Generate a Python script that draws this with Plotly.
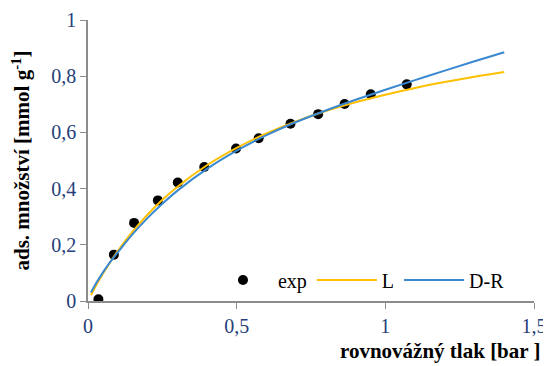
import plotly.graph_objects as go

# experimental points
exp_p = [0.035, 0.087, 0.155, 0.235, 0.302, 0.391, 0.498, 0.574, 0.681, 0.774, 0.863, 0.951, 1.072]
exp_q = [0.006, 0.165, 0.278, 0.358, 0.422, 0.477, 0.543, 0.579, 0.631, 0.665, 0.701, 0.736, 0.771]

# model curves
curve_p = [0.01, 0.02, 0.04, 0.06, 0.08, 0.1, 0.15, 0.2, 0.25, 0.3, 0.4, 0.5, 0.6, 0.7, 0.8,
           0.9, 1.0, 1.1, 1.2, 1.3, 1.4]
L_q = [0.021, 0.041, 0.079, 0.114, 0.147, 0.178, 0.247, 0.307, 0.360, 0.406, 0.483, 0.545,
       0.596, 0.639, 0.676, 0.707, 0.734, 0.758, 0.779, 0.798, 0.815]
DR_q = [0.030, 0.050, 0.085, 0.117, 0.146, 0.173, 0.238, 0.295, 0.346, 0.392, 0.470, 0.535,
        0.590, 0.637, 0.678, 0.716, 0.752, 0.786, 0.820, 0.853, 0.885]

x_ticks = [0, 0.5, 1, 1.5]
y_ticks = [0, 0.2, 0.4, 0.6, 0.8, 1]

FONT = "Liberation Serif"

fig = go.Figure()
fig.add_trace(go.Scatter(x=exp_p, y=exp_q, mode="markers", name="exp",
                         marker=dict(color="black", size=10)))
fig.add_trace(go.Scatter(x=curve_p, y=L_q, mode="lines", name="L",
                         line=dict(color="#FFC000", width=2, shape="spline")))
fig.add_trace(go.Scatter(x=curve_p, y=DR_q, mode="lines", name="D-R",
                         line=dict(color="#3A88D0", width=2, shape="spline")))

axis_common = dict(showgrid=False, zeroline=False, showline=True, linecolor="#8c8c8c",
                   linewidth=1.5, ticks="outside", tickcolor="#8c8c8c", ticklen=6,
                   tickfont=dict(family=FONT, size=20, color="#24407a"))

# page body has an 8px default margin, so margins are offset to compensate
fig.update_layout(
    width=551, height=366,
    margin=dict(l=80, r=25, t=12, b=73, autoexpand=False),
    paper_bgcolor="white", plot_bgcolor="white",
    separators=", ",
    font=dict(family=FONT),
    showlegend=True,
    legend=dict(orientation="h", x=0.269, y=0.075, xanchor="left", yanchor="middle",
                bgcolor="rgba(0,0,0,0)", font=dict(family=FONT, size=20, color="black"),
                itemwidth=60, tracegroupgap=0),
    xaxis=dict(range=[0, 1.5], tickvals=x_ticks, **axis_common),
    yaxis=dict(range=[0, 1], tickvals=y_ticks, **axis_common),
    annotations=[
        dict(text="<b>rovnovážný tlak [bar ]</b>", xref="paper", yref="paper",
             x=1.018, y=0, xanchor="right", yanchor="top", yshift=-36, showarrow=False,
             font=dict(family=FONT, size=21, color="black")),
        dict(text="<b>ads. množství [mmol g<sup>-1</sup>]</b>", xref="paper", yref="paper",
             x=0, y=0.5, xanchor="center", yanchor="middle", xshift=-67, showarrow=False,
             textangle=-90, font=dict(family=FONT, size=21, color="black")),
    ],
)

fig.write_html("out.html")
